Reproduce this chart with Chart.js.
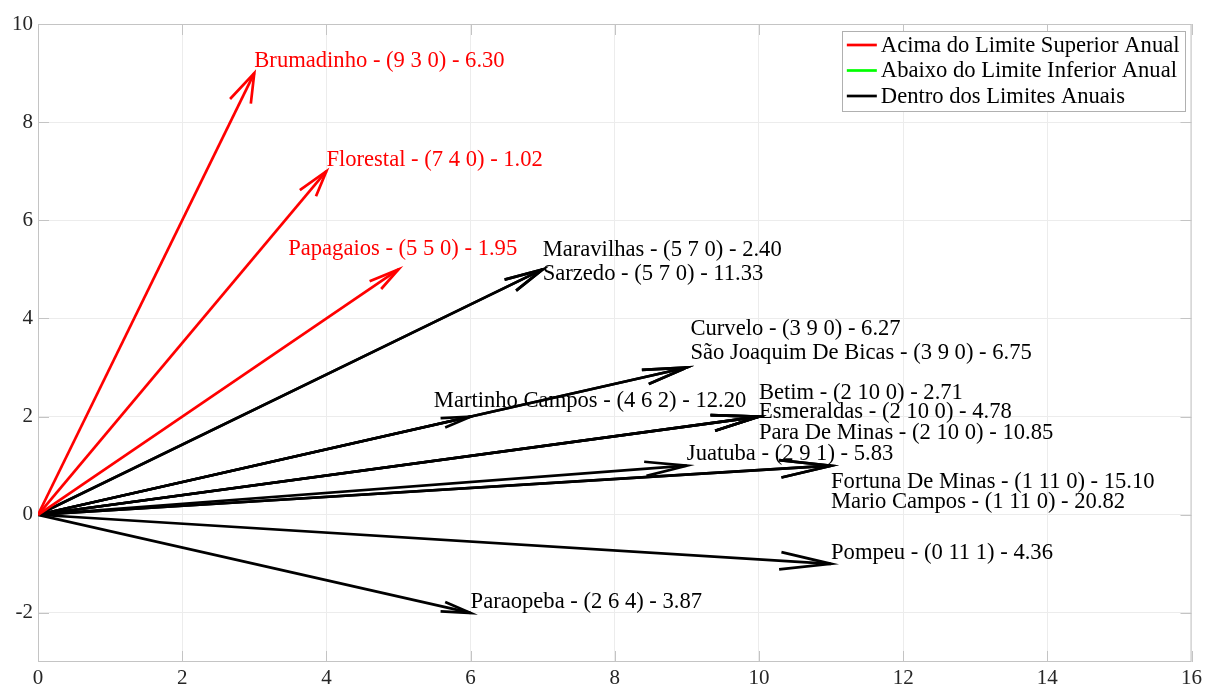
<!DOCTYPE html>
<html>
<head>
<meta charset="utf-8">
<script src="https://cdn.jsdelivr.net/npm/chart.js@4.4.0/dist/chart.umd.min.js"></script>
<style>
  html, body { margin: 0; padding: 0; background: #fff; }
  #wrap { width: 1206px; height: 686px; }
</style>
</head>
<body>
<div id="wrap"><canvas id="quiverChart"></canvas></div>
<script>
// Municípios e contagem de meses (acima, dentro, abaixo dos limites) + índice
const municipios = ['Brumadinho', 'Florestal', 'Papagaios', 'Maravilhas', 'Sarzedo', 'Curvelo',
    'São Joaquim De Bicas', 'Martinho Campos', 'Betim', 'Esmeraldas', 'Para De Minas', 'Juatuba',
    'Fortuna De Minas', 'Mario Campos', 'Pompeu', 'Paraopeba'];
const acima  = [9, 7, 5, 5, 5, 3, 3, 4, 2, 2, 2, 2, 1, 1, 0, 2];
const dentro = [3, 4, 5, 7, 7, 9, 9, 6, 10, 10, 10, 9, 11, 11, 11, 6];
const abaixo = [0, 0, 0, 0, 0, 0, 0, 2, 0, 0, 0, 1, 0, 0, 1, 4];
const indice = [6.30, 1.02, 1.95, 2.40, 11.33, 6.27, 6.75, 12.20, 2.71, 4.78, 10.85, 5.83, 15.10, 20.82, 4.36, 3.87];
// 0 = acima, 1 = abaixo, 2 = dentro
const situacao = [0, 0, 0, 2, 2, 2, 2, 2, 2, 2, 2, 2, 2, 2, 2, 2];
const categorias = ['Acima do Limite Superior Anual', 'Abaixo do Limite Inferior Anual', 'Dentro dos Limites Anuais'];
const xTicks = [0, 2, 4, 6, 8, 10, 12, 14, 16];
const yTicks = [-2, 0, 2, 4, 6, 8, 10];

const cores = ['#ff0000', '#00ff00', '#000000'];
const FONTE = '"Liberation Serif", "Times New Roman", serif';

// deslocamento dos rótulos em relação à ponta da seta (unidades dos eixos)
const desloc = [[0, 0.27], [0, 0.26], [-1.53, 0.45], [0, 0.43], [0, -0.06], [0.05, 0.82],
    [0.05, 0.33], [-0.51, 0.34], [0, 0.52], [0, 0.13], [0, -0.30], [0, 0.26],
    [0, -0.30], [0, -0.71], [0, 0.26], [0, 0.26]];

const ponta = i => ({ x: dentro[i], y: acima[i] - abaixo[i] });

const datasets = municipios.map((m, i) => ({
    label: m,
    data: [{ x: 0, y: 0 }, ponta(i)],
    showLine: true,
    borderColor: cores[situacao[i]],
    borderWidth: 2.7,
    pointRadius: 0,
    fill: false
}));

// moldura da área do gráfico e marcas dos ticks para dentro
const moldura = {
    id: 'moldura',
    beforeDatasetsDraw(chart) {
        const { ctx, chartArea: a, scales: { x, y } } = chart;
        ctx.save();
        ctx.strokeStyle = '#c4c4c4';
        ctx.lineWidth = 1;
        ctx.strokeRect(a.left + 0.5, a.top + 0.5, a.right - a.left - 1, a.bottom - a.top - 1);
        ctx.beginPath();
        const t = 11;
        xTicks.forEach(v => {
            const px = Math.round(x.getPixelForValue(v)) + 0.5;
            ctx.moveTo(px, a.bottom); ctx.lineTo(px, a.bottom - t);
            ctx.moveTo(px, a.top); ctx.lineTo(px, a.top + t);
        });
        yTicks.forEach(v => {
            const py = Math.round(y.getPixelForValue(v)) + 0.5;
            ctx.moveTo(a.left, py); ctx.lineTo(a.left + t, py);
            ctx.moveTo(a.right, py); ctx.lineTo(a.right - t, py);
        });
        ctx.stroke();
        ctx.restore();
    }
};

// pontas de seta no estilo quiver (tamanho proporcional ao vetor)
const setas = {
    id: 'setas',
    afterDatasetsDraw(chart) {
        const { ctx, scales: { x, y } } = chart;
        const alfa = 0.064, beta = 0.25;
        ctx.save();
        ctx.lineWidth = 2.7;
        ctx.lineJoin = 'miter';
        municipios.forEach((m, i) => {
            const p = ponta(i);
            const u = p.x, v = p.y;
            const b1 = { x: u - alfa * (u + beta * v), y: v - alfa * (v - beta * u) };
            const b2 = { x: u - alfa * (u - beta * v), y: v - alfa * (v + beta * u) };
            ctx.strokeStyle = cores[situacao[i]];
            ctx.beginPath();
            ctx.moveTo(x.getPixelForValue(b1.x), y.getPixelForValue(b1.y));
            ctx.lineTo(x.getPixelForValue(u), y.getPixelForValue(v));
            ctx.lineTo(x.getPixelForValue(b2.x), y.getPixelForValue(b2.y));
            ctx.stroke();
        });
        ctx.restore();
    }
};

// rótulos "município - (acima dentro abaixo) - índice" e a legenda
const rotulos = {
    id: 'rotulos',
    afterDraw(chart) {
        const { ctx, chartArea: a, scales: { x, y } } = chart;
        ctx.save();
        ctx.font = '22.6px ' + FONTE;
        ctx.textBaseline = 'middle';
        ctx.textAlign = 'left';
        municipios.forEach((m, i) => {
            const p = ponta(i);
            const txt = m + ' - (' + acima[i] + ' ' + dentro[i] + ' ' + abaixo[i] + ') - ' + indice[i].toFixed(2);
            ctx.fillStyle = situacao[i] === 0 ? '#ff0000' : '#000000';
            ctx.fillText(txt, x.getPixelForValue(p.x + desloc[i][0]), y.getPixelForValue(p.y + desloc[i][1]) + 1.5);
        });

        // legenda
        const larg = Math.max(...categorias.map(c => ctx.measureText(c).width));
        const w = 5 + 30 + 4 + larg + 5, h = 80;
        const x0 = a.right - 7 - w, y0 = a.top + 7;
        ctx.fillStyle = '#ffffff';
        ctx.fillRect(x0, y0, w, h);
        ctx.strokeStyle = '#b0b0b0';
        ctx.lineWidth = 1;
        ctx.strokeRect(Math.round(x0) + 0.5, Math.round(y0) + 0.5, Math.round(w), h);
        categorias.forEach((c, k) => {
            const cy = y0 + 14 + k * 25.5;
            ctx.strokeStyle = cores[k];
            ctx.lineWidth = 2.7;
            ctx.beginPath();
            ctx.moveTo(x0 + 5, cy); ctx.lineTo(x0 + 35, cy);
            ctx.stroke();
            ctx.fillStyle = '#000000';
            ctx.fillText(c, x0 + 39, cy + 1);
        });
        ctx.restore();
    }
};

new Chart(document.getElementById('quiverChart'), {
    type: 'scatter',
    data: { datasets },
    options: {
        responsive: true,
        maintainAspectRatio: false,
        animation: false,
        layout: { padding: { top: 24, right: 11, left: 0, bottom: 0 } },
        plugins: {
            legend: { display: false },
            tooltip: { enabled: false }
        },
        scales: {
            x: {
                type: 'linear',
                min: 0, max: 16,
                afterBuildTicks: s => { s.ticks = xTicks.map(v => ({ value: v })); },
                afterFit: s => { s.height = 24; },
                grid: { color: '#ececec', drawTicks: false },
                border: { display: false },
                ticks: { color: '#262626', padding: 4, font: { family: FONTE, size: 21 }, maxRotation: 0 }
            },
            y: {
                type: 'linear',
                min: -3, max: 10,
                afterBuildTicks: s => { s.ticks = yTicks.map(v => ({ value: v })); },
                afterFit: s => { s.width = 38; },
                grid: { color: '#ececec', drawTicks: false },
                border: { display: false },
                ticks: { color: '#262626', padding: 5, font: { family: FONTE, size: 21 } }
            }
        }
    },
    plugins: [moldura, setas, rotulos]
});
</script>
</body>
</html>
